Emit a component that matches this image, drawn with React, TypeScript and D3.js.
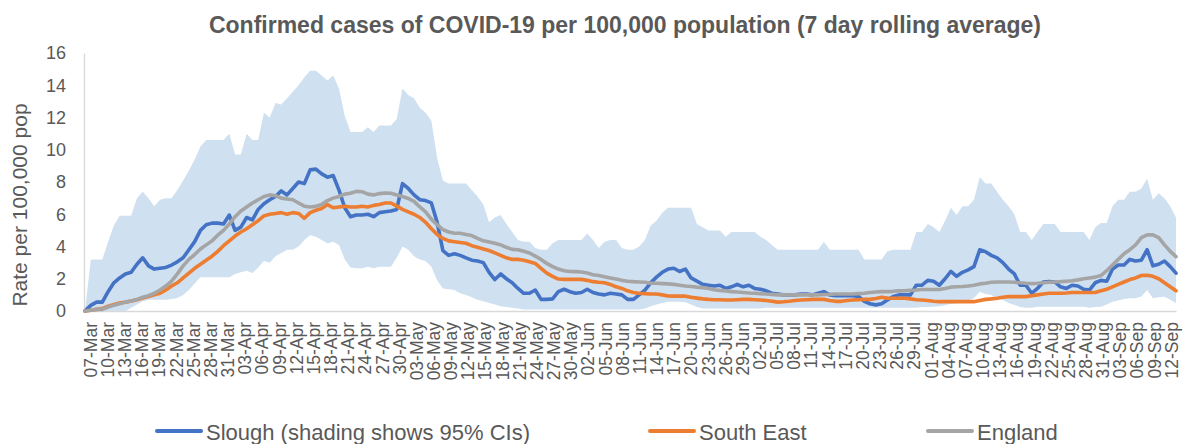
import React, { useEffect, useRef } from 'react';
import * as d3 from 'd3';

const svgWidth = 1184;
const svgHeight = 444;

// one label every 3 days, first day is 07-Mar
const tickLabels = [
  '07-Mar', '10-Mar', '13-Mar', '16-Mar', '19-Mar', '22-Mar', '25-Mar', '28-Mar', '31-Mar',
  '03-Apr', '06-Apr', '09-Apr', '12-Apr', '15-Apr', '18-Apr', '21-Apr', '24-Apr', '27-Apr', '30-Apr',
  '03-May', '06-May', '09-May', '12-May', '15-May', '18-May', '21-May', '24-May', '27-May', '30-May',
  '02-Jun', '05-Jun', '08-Jun', '11-Jun', '14-Jun', '17-Jun', '20-Jun', '23-Jun', '26-Jun', '29-Jun',
  '02-Jul', '05-Jul', '08-Jul', '11-Jul', '14-Jul', '17-Jul', '20-Jul', '23-Jul', '26-Jul', '29-Jul',
  '01-Aug', '04-Aug', '07-Aug', '10-Aug', '13-Aug', '16-Aug', '19-Aug', '22-Aug', '25-Aug', '28-Aug', '31-Aug',
  '03-Sep', '06-Sep', '09-Sep', '12-Sep',
];

// Slough, daily 07-Mar .. 12-Sep
const slough = [
  0.0, 0.35, 0.55, 0.55, 1.2, 1.75, 2.05, 2.3, 2.4, 2.9,
  3.3, 2.8, 2.6, 2.65, 2.7, 2.85, 3.05, 3.3, 3.8, 4.3,
  5.0, 5.35, 5.45, 5.45, 5.4, 5.95, 5.0, 5.2, 5.8, 5.65,
  6.3, 6.65, 6.9, 7.1, 7.45, 7.2, 7.6, 8.0, 7.9, 8.75,
  8.8, 8.5, 8.3, 8.4, 7.5, 6.4, 5.85, 5.95, 5.95, 6.0,
  5.85, 6.1, 6.15, 6.2, 6.3, 7.9, 7.6, 7.2, 6.9, 6.85,
  6.7, 5.5, 3.75, 3.45, 3.55, 3.45, 3.3, 3.15, 3.1, 3.0,
  2.4, 1.95, 2.3, 2.0, 1.75, 1.4, 1.1, 1.1, 1.3, 0.72,
  0.72, 0.75, 1.2, 1.35, 1.2, 1.1, 1.15, 1.35, 1.15, 1.05,
  1.0, 1.1, 1.05, 1.0, 0.72, 0.72, 1.0, 1.3, 1.75, 2.1,
  2.4, 2.6, 2.65, 2.45, 2.6, 2.05, 1.85, 1.65, 1.6, 1.55,
  1.6, 1.4, 1.5, 1.65, 1.5, 1.6, 1.4, 1.35, 1.25, 1.1,
  1.05, 1.0, 1.0, 1.0, 1.05, 1.05, 1.0, 1.1, 1.2, 1.0,
  0.95, 0.95, 0.95, 0.95, 0.9, 0.6, 0.45, 0.38, 0.45, 0.68,
  0.9, 1.0, 1.0, 1.0, 1.6, 1.6, 1.9, 1.85, 1.6, 2.0,
  2.45, 2.15, 2.4, 2.55, 2.75, 3.8, 3.68, 3.45, 3.3, 3.0,
  2.6, 2.3, 1.6, 1.6, 1.1, 1.4, 1.8, 1.82, 1.8, 1.5,
  1.4, 1.6, 1.55, 1.35, 1.3, 1.75, 1.9, 1.85, 2.6, 2.85,
  2.85, 3.2, 3.1, 3.15, 3.8, 2.8, 2.9, 3.1, 2.75, 2.35,
];

// 95% CI bounds for Slough
const sloughUpper = [
  0.0, 3.2, 3.2, 3.2, 4.3, 5.3, 5.9, 5.9, 5.9, 7.0,
  7.4, 7.0, 6.5, 6.9, 7.0, 7.0, 7.5, 8.1, 8.7, 9.4,
  10.2, 10.6, 10.6, 10.6, 10.6, 11.0, 9.7, 9.7, 11.0, 10.6,
  10.6, 12.3, 12.0, 12.9, 12.8, 13.2, 13.6, 14.0, 14.5, 14.9,
  14.9, 14.6, 14.3, 14.6, 13.8, 12.1, 11.1, 11.1, 11.1, 11.4,
  11.1, 11.5, 11.5, 11.5, 11.9, 13.8, 13.4, 13.2, 12.6, 12.3,
  11.8, 9.5, 8.1, 7.9, 7.9, 7.9, 7.9, 7.5, 7.1, 6.6,
  5.5, 5.8, 5.95, 5.4, 4.9, 4.4, 4.3, 4.3, 3.9, 3.8,
  3.8, 4.2, 4.4, 4.4, 4.4, 4.4, 4.4, 4.8, 4.4, 3.9,
  4.3, 4.4, 4.4, 3.9, 3.8, 3.8, 4.0, 4.4, 5.3, 5.6,
  6.1, 6.4, 6.4, 6.4, 6.4, 6.4, 5.4, 5.2, 5.0, 5.0,
  5.0, 4.6, 4.9, 4.9, 4.9, 4.9, 4.9, 4.6, 4.4, 4.1,
  3.8, 3.8, 3.8, 3.8, 3.8, 3.8, 3.8, 3.8, 4.3, 3.8,
  3.8, 3.8, 3.8, 3.8, 3.8, 3.2, 3.2, 3.2, 3.2, 3.7,
  3.8, 3.8, 3.8, 3.8, 4.9, 4.9, 5.4, 5.2, 4.9, 5.6,
  6.4, 5.95, 6.5, 6.5, 6.9, 8.3, 7.9, 7.9, 7.4, 6.9,
  6.5, 6.0, 4.9, 4.9, 4.4, 4.9, 5.4, 5.4, 5.4, 4.9,
  4.9, 4.9, 4.9, 4.9, 4.4, 5.2, 5.45, 5.45, 6.5, 6.9,
  6.9, 7.4, 7.4, 7.6, 8.2, 6.9, 7.3, 7.0, 6.5, 5.8,
];

const sloughLower = [
  0, 0, 0, 0, 0, 0, 0, 0, 0.2, 0.4,
  0.6, 0.7, 0.7, 0.7, 0.7, 0.75, 0.8, 1.0, 1.3, 1.7,
  2.1, 2.1, 2.1, 2.1, 2.1, 2.1, 2.3, 2.4, 2.5, 2.35,
  2.7, 3.1, 3.0, 3.4, 3.6, 3.8, 3.8, 4.0, 4.4, 4.7,
  4.6, 4.4, 4.2, 4.3, 4.1, 3.2, 2.7, 2.65, 2.65, 2.75,
  2.65, 2.75, 2.75, 2.75, 3.3, 4.0, 3.8, 3.4, 3.2, 3.1,
  2.75, 1.9, 1.4, 1.35, 1.3, 1.1, 1.0, 0.85, 0.7, 0.6,
  0.5, 0.4, 0.3, 0.25, 0.2, 0.15, 0.1, 0.1, 0.1, 0.1,
  0.1, 0.1, 0.1, 0.1, 0.1, 0.1, 0.1, 0.1, 0.1, 0.1,
  0.1, 0.1, 0.1, 0.1, 0.1, 0.1, 0.1, 0.15, 0.3, 0.4,
  0.5, 0.58, 0.58, 0.58, 0.55, 0.4, 0.25, 0.15, 0.15, 0.15,
  0.15, 0.15, 0.15, 0.15, 0.15, 0.15, 0.15, 0.15, 0.2, 0.2,
  0.2, 0.2, 0.2, 0.2, 0.2, 0.2, 0.2, 0.2, 0.2, 0.2,
  0.2, 0.2, 0.2, 0.2, 0.2, 0.2, 0.2, 0.2, 0.2, 0.2,
  0.2, 0.2, 0.2, 0.2, 0.2, 0.25, 0.25, 0.27, 0.3, 0.35,
  0.45, 0.47, 0.55, 0.65, 0.8, 1.2, 1.05, 1.0, 0.8, 0.68,
  0.5, 0.37, 0.25, 0.2, 0.2, 0.27, 0.27, 0.27, 0.27, 0.27,
  0.27, 0.27, 0.27, 0.27, 0.2, 0.25, 0.27, 0.4, 0.58, 0.65,
  0.75, 0.79, 0.79, 0.9, 1.3, 0.79, 0.85, 0.89, 0.7, 0.5,
];

const southEast = [
  0.0, 0.05, 0.1, 0.15, 0.3, 0.4, 0.5, 0.55, 0.62, 0.7,
  0.8, 0.9, 1.0, 1.1, 1.3, 1.55, 1.75, 2.05, 2.35, 2.65,
  2.9, 3.15, 3.4, 3.7, 4.05, 4.35, 4.65, 4.9, 5.1, 5.35,
  5.6, 5.9, 6.0, 6.05, 6.1, 6.0, 6.1, 6.05, 5.75, 6.1,
  6.25, 6.35, 6.6, 6.4, 6.45, 6.5, 6.45, 6.45, 6.5, 6.45,
  6.55, 6.6, 6.7, 6.7, 6.5, 6.3, 6.15, 6.0, 5.8, 5.5,
  5.1, 4.75, 4.5, 4.35, 4.3, 4.25, 4.2, 4.05, 3.95, 3.85,
  3.75, 3.6, 3.45, 3.3, 3.2, 3.2, 3.15, 3.05, 2.95, 2.65,
  2.35, 2.15, 1.98, 1.96, 1.96, 1.96, 1.96, 1.9, 1.82, 1.78,
  1.75, 1.65, 1.5, 1.4, 1.25, 1.15, 1.1, 1.08, 1.05, 1.05,
  1.0, 0.93, 0.92, 0.92, 0.92, 0.85, 0.8, 0.75, 0.72, 0.7,
  0.7, 0.68, 0.68, 0.7, 0.72, 0.72, 0.7, 0.68, 0.65, 0.6,
  0.55, 0.57, 0.6, 0.65, 0.68, 0.7, 0.72, 0.72, 0.72, 0.65,
  0.6, 0.6, 0.65, 0.68, 0.7, 0.72, 0.72, 0.78, 0.85, 0.8,
  0.79, 0.79, 0.79, 0.75, 0.7, 0.68, 0.65, 0.6, 0.58, 0.58,
  0.58, 0.58, 0.58, 0.58, 0.58, 0.65, 0.72, 0.75, 0.79, 0.85,
  0.89, 0.89, 0.89, 0.89, 0.95, 1.0, 1.05, 1.1, 1.1, 1.1,
  1.12, 1.15, 1.15, 1.15, 1.15, 1.15, 1.25, 1.35, 1.5, 1.65,
  1.8, 1.95, 2.05, 2.2, 2.22, 2.15, 2.0, 1.75, 1.5, 1.25,
];

const england = [
  0.0, 0.05, 0.1, 0.1, 0.25, 0.35, 0.45, 0.55, 0.62, 0.72,
  0.85, 0.95, 1.1, 1.3, 1.55, 1.85, 2.3, 2.8, 3.2, 3.5,
  3.85, 4.1, 4.35, 4.7, 5.0, 5.4, 5.85, 6.2, 6.45, 6.7,
  6.9, 7.1, 7.2, 7.15, 7.0, 6.95, 6.9, 6.7, 6.5, 6.45,
  6.5, 6.6, 6.85, 7.0, 7.1, 7.25, 7.3, 7.42, 7.4, 7.25,
  7.2, 7.28, 7.32, 7.3, 7.2, 7.1, 6.98, 6.8, 6.45, 6.15,
  5.7, 5.35, 5.05, 4.9, 4.82, 4.82, 4.75, 4.68, 4.5, 4.35,
  4.28, 4.2, 4.1, 3.95, 3.82, 3.8, 3.7, 3.6, 3.4, 3.2,
  2.95, 2.75, 2.6, 2.5, 2.45, 2.44, 2.42, 2.35, 2.25, 2.2,
  2.12, 2.05, 1.98, 1.9, 1.85, 1.82, 1.8, 1.78, 1.72, 1.72,
  1.7, 1.68, 1.65, 1.6, 1.55, 1.52, 1.48, 1.45, 1.4, 1.32,
  1.28, 1.25, 1.2, 1.18, 1.15, 1.12, 1.1, 1.08, 1.05, 1.03,
  1.0, 1.0, 1.0, 1.0, 1.0, 1.0, 1.0, 1.0, 1.02, 1.03,
  1.05, 1.05, 1.05, 1.05, 1.08, 1.1, 1.15, 1.18, 1.2, 1.2,
  1.22, 1.25, 1.26, 1.28, 1.3, 1.33, 1.33, 1.33, 1.33, 1.4,
  1.48, 1.5, 1.52, 1.55, 1.6, 1.68, 1.72, 1.78, 1.8, 1.8,
  1.8, 1.78, 1.75, 1.72, 1.7, 1.72, 1.75, 1.78, 1.8, 1.82,
  1.85, 1.88, 1.93, 2.0, 2.05, 2.1, 2.2, 2.5, 2.85, 3.2,
  3.55, 3.8, 4.1, 4.55, 4.72, 4.72, 4.55, 4.1, 3.7, 3.37,
];

const yTicks = [0, 2, 4, 6, 8, 10, 12, 14, 16];

const seriesNames = ['Slough (shading shows 95% CIs)', 'South East', 'England'];
const seriesColors = ['#4472c4', '#ed7d31', '#a5a5a5'];

const App: React.FC = () => {
  const svgRef = useRef<SVGSVGElement | null>(null);

  useEffect(() => {
    document.body.style.margin = '0';
    const svg = d3.select(svgRef.current);
    svg.selectAll('*').remove();

    const font = "'Liberation Sans', Arial, sans-serif";
    const textColor = '#595959';
    const axisColor = '#d9d9d9';

    const n = slough.length;
    const x = d3.scaleLinear().domain([0, n - 1]).range([85, 1176]);
    const y = d3.scaleLinear().domain([0, 16]).range([311, 53]);
    // category labels sit a little inside the plot ends
    const labelX = d3.scaleLinear().domain([0, n - 1]).range([90, 1171]);

    // title
    svg
      .append('text')
      .attr('x', 625)
      .attr('y', 33)
      .attr('text-anchor', 'middle')
      .attr('font-family', font)
      .attr('font-size', 23)
      .attr('font-weight', 'bold')
      .attr('fill', textColor)
      .text('Confirmed cases of COVID-19 per 100,000 population (7 day rolling average)');

    // CI band
    const band = d3
      .area<number>()
      .x((_, i) => x(i))
      .y0((_, i) => y(sloughLower[i]))
      .y1((d) => y(d));

    svg
      .append('path')
      .datum(sloughUpper)
      .attr('d', band)
      .attr('fill', '#cfe0f1');

    // y axis
    const yAxis = svg
      .append('g')
      .attr('transform', 'translate(84,0)')
      .call(d3.axisLeft(y).tickValues(yTicks).tickSize(0).tickPadding(18));
    yAxis.select('.domain').attr('stroke', axisColor).attr('stroke-width', 1.3);
    yAxis
      .selectAll('text')
      .attr('font-family', font)
      .attr('font-size', 18)
      .attr('fill', textColor);

    // x axis
    const tickIdx = tickLabels.map((_, k) => k * 3);
    const xAxis = svg
      .append('g')
      .attr('transform', 'translate(0,311)')
      .call(
        d3
          .axisBottom(x)
          .tickValues(tickIdx)
          .tickSize(0)
          .tickFormat((d) => tickLabels[(d as number) / 3])
      );
    xAxis.select('.domain').attr('stroke', axisColor).attr('stroke-width', 1.5);
    xAxis
      .selectAll<SVGTextElement, number>('text')
      .attr('transform', 'rotate(-90)')
      .attr('text-anchor', 'end')
      .attr('x', -11)
      .attr('y', (d) => labelX(d) - x(d) + 6.3)
      .attr('dy', 0)
      .attr('font-family', font)
      .attr('font-size', 17.5)
      .attr('fill', textColor);

    // y axis title
    svg
      .append('text')
      .attr('transform', 'translate(27,205) rotate(-90)')
      .attr('text-anchor', 'middle')
      .attr('font-family', font)
      .attr('font-size', 21)
      .attr('fill', textColor)
      .text('Rate per 100,000 pop');

    // lines
    const line = d3
      .line<number>()
      .x((_, i) => x(i))
      .y((d) => y(d));

    [slough, southEast, england].forEach((s, k) => {
      svg
        .append('path')
        .datum(s)
        .attr('d', line)
        .attr('fill', 'none')
        .attr('stroke', seriesColors[k])
        .attr('stroke-width', 3.6)
        .attr('stroke-linejoin', 'round')
        .attr('stroke-linecap', 'round');
    });

    // legend
    const legendX = [157, 650, 928];
    const legend = svg.append('g');
    seriesNames.forEach((name, k) => {
      legend
        .append('line')
        .attr('x1', legendX[k])
        .attr('x2', legendX[k] + 44)
        .attr('y1', 431)
        .attr('y2', 431)
        .attr('stroke', seriesColors[k])
        .attr('stroke-width', 4)
        .attr('stroke-linecap', 'round');
      legend
        .append('text')
        .attr('x', legendX[k] + 49)
        .attr('y', 440)
        .attr('font-family', font)
        .attr('font-size', 22)
        .attr('fill', textColor)
        .text(name);
    });
  }, []);

  return <svg ref={svgRef} width={svgWidth} height={svgHeight} style={{ display: 'block' }} />;
};

export default App;
